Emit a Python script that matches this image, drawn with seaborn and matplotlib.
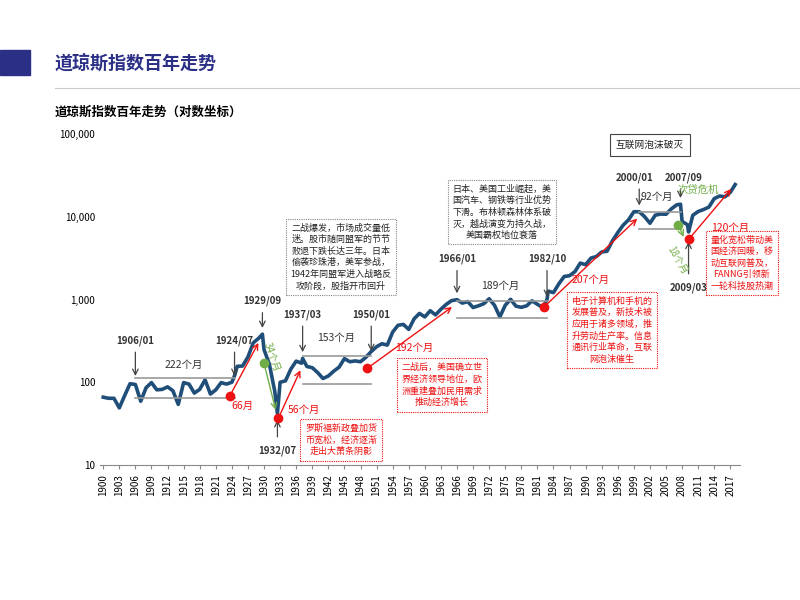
import matplotlib
matplotlib.use("Agg")
import matplotlib.pyplot as plt
import matplotlib.patches as mpatches
import matplotlib.ticker as mticker
import seaborn as sns
import pandas as pd

plt.rcParams["font.family"] = ["Noto Sans CJK SC", "DejaVu Sans"]

# Dow Jones index, approximate readings (year, level)
years = [1900, 1901, 1902, 1903, 1904, 1905, 1906, 1907, 1908, 1909, 1910, 1911, 1912,
         1913, 1914, 1915, 1916, 1917, 1918, 1919, 1920, 1921, 1922, 1923, 1924, 1924.5,
         1925, 1926, 1927, 1928, 1929, 1929.7, 1930, 1931, 1932, 1932.5, 1933, 1934, 1935,
         1936, 1937, 1937.2, 1938, 1939, 1940, 1941, 1942, 1943, 1944, 1945, 1946, 1947,
         1948, 1949, 1950, 1951, 1952, 1953, 1954, 1955, 1956, 1957, 1958, 1959, 1960,
         1961, 1962, 1963, 1964, 1965, 1966, 1967, 1968, 1969, 1970, 1971, 1972, 1973,
         1974, 1975, 1976, 1977, 1978, 1979, 1980, 1981, 1982, 1982.8, 1983, 1984, 1985,
         1986, 1987, 1988, 1989, 1990, 1991, 1992, 1993, 1994, 1995, 1996, 1997, 1998,
         1999, 2000, 2001, 2002, 2003, 2004, 2005, 2006, 2007, 2007.7, 2008, 2009,
         2009.2, 2010, 2011, 2012, 2013, 2014, 2015, 2016, 2017, 2017.9]
dow = [66, 64, 64, 49, 69, 96, 94, 59, 86, 99, 81, 82, 88,
       79, 54, 99, 95, 74, 82, 107, 72, 81, 99, 95, 100, 120,
       156, 157, 202, 300, 340, 381, 248, 165, 78, 42, 100, 104, 144,
       180, 170, 194, 155, 150, 131, 111, 119, 136, 152, 193, 177, 181,
       177, 200, 235, 269, 292, 281, 404, 488, 500, 435, 584, 679, 616,
       731, 652, 763, 874, 969, 995, 905, 944, 800, 839, 890, 1020, 851,
       616, 852, 1005, 831, 805, 839, 964, 875, 800, 1000, 1259, 1212, 1547,
       1896, 1939, 2169, 2753, 2634, 3169, 3301, 3754, 3834, 5117, 6448, 7908, 9181,
       11497, 11500, 10021, 8342, 10454, 10783, 10718, 12463, 13930, 14165, 8776, 8000,
       6547, 10428, 11578, 12218, 13104, 16577, 17823, 17425, 19763, 24500]
tick_years = list(range(1900, 2018, 3))
ytick_vals = [10, 100, 1000, 10000, 100000]

df = pd.DataFrame({"year": years, "dow": dow})

fig = plt.figure(figsize=(8, 6), dpi=100)
W, H = 800, 600
def fp(x, y):
    return x / W, 1 - y / H

# header
fig.patches.append(mpatches.Rectangle(fp(0, 75), 30 / W, 25 / H, color="#2b2f86", transform=fig.transFigure))
fig.text(*fp(55, 63), "道琼斯指数百年走势", fontsize=13, fontweight="bold", color="#2b2f86", va="center")
fig.add_artist(plt.Line2D([55 / W, 1], [1 - 88 / H] * 2, color="#cccccc", lw=0.8))
fig.text(*fp(55, 112), "道琼斯指数百年走势（对数坐标）", fontsize=9, fontweight="bold", va="center")

ax = fig.add_axes([100 / W, 1 - 465 / H, 640 / W, 331 / H])
sns.lineplot(data=df, x="year", y="dow", ax=ax, color="#1f4e79", lw=2.6)
ax.set_yscale("log")
ax.set_ylim(10, 100000)
ax.set_xlim(1899.4, 2018.8)
ax.set_yticks(ytick_vals)
ax.yaxis.set_major_formatter(mticker.FuncFormatter(lambda v, p: f"{int(v):,}"))
ax.yaxis.set_minor_locator(mticker.NullLocator())
ax.set_xticks(tick_years)
ax.set_xticklabels([str(t) for t in tick_years], rotation=90, fontsize=7)
ax.tick_params(axis="y", labelsize=7, length=0)
ax.tick_params(axis="x", length=3, color="#888888")
ax.set_xlabel("")
ax.set_ylabel("")
for s in ["left", "top", "right"]:
    ax.spines[s].set_visible(False)
ax.spines["bottom"].set_color("#888888")

# date markers: label, x, y, label x, label y
marks = [("1906/01", 1906, 100, 1906, 320), ("1924/07", 1924.5, 100, 1924.5, 320),
         ("1929/09", 1929.7, 381, 1929.7, 960), ("1937/03", 1937.2, 194, 1937.2, 660),
         ("1950/01", 1950, 200, 1950, 660), ("1966/01", 1966, 1000, 1966, 3100),
         ("1982/10", 1982.8, 900, 1982.8, 3100), ("2000/01", 2000, 11500, 1999.2, 30000),
         ("2007/09", 2007.7, 14165, 2008.3, 30000)]
for lab, x, y, tx, ty in marks:
    ax.annotate("", xy=(x, y * 1.1), xytext=(x, ty * 0.78),
                arrowprops=dict(arrowstyle="->", color="#444444", lw=0.9))
    ax.text(tx, ty, lab, ha="center", va="center", fontsize=7, fontweight="bold", color="#333333")
for lab, x, y, ty in [("1932/07", 1932.5, 42, 15), ("2009/03", 2009.2, 6000, 1400)]:
    ax.annotate("", xy=(x, y * 0.9), xytext=(x, ty * 1.35),
                arrowprops=dict(arrowstyle="->", color="#444444", lw=0.9))
    ax.text(x, ty, lab, ha="center", va="center", fontsize=7, fontweight="bold", color="#333333")

# grey ranges
ranges = [(1906, 1924.5, 112, 64, "222个月", 1915, 160), (1937.2, 1950, 205, 95, "153个月", 1943.5, 340),
          (1966, 1982.8, 970, 590, "189个月", 1974, 1450), (2000, 2007.7, 11500, 7200, "92个月", 2003.3, 17500)]
for x0, x1, hi, lo, lab, tx, ty in ranges:
    ax.plot([x0, x1], [hi, hi], color="#999999", lw=1.2)
    ax.plot([x0, x1], [lo, lo], color="#999999", lw=1.2)
    ax.text(tx, ty, lab, ha="center", va="center", fontsize=7.5, color="#333333")

# red rallies
rallies = [(1923.6, 68, 1929.2, 320, "66月", 1926, 52), (1932.7, 37, 1937, 150, "56个月", 1937.5, 46),
           (1949.3, 148, 1965.5, 850, "192个月", 1958, 260), (1982.3, 820, 2000, 10000, "207个月", 1991, 1730),
           (2009.3, 5400, 2017.5, 23000, "120个月", 2017, 7400)]
for x0, y0, x1, y1, lab, tx, ty in rallies:
    ax.plot(x0, y0, "o", color="#ee1111", ms=6, zorder=5)
    ax.annotate("", xy=(x1, y1), xytext=(x0, y0),
                arrowprops=dict(arrowstyle="->", color="#ee1111", lw=1))
    ax.text(tx, ty, lab, ha="center", va="center", fontsize=7.5, color="#ee1111")

# green crashes
for x0, y0, x1, y1, lab, tx, ty, rot in [(1930, 170, 1932.3, 43, "34个月", 1931.5, 200, -70),
                                         (2007.3, 8000, 2008.5, 5300, "18个月", 2007, 3000, -60)]:
    ax.plot(x0, y0, "o", color="#70ad47", ms=6, zorder=5)
    ax.annotate("", xy=(x1, y1), xytext=(x0, y0),
                arrowprops=dict(arrowstyle="->", color="#70ad47", lw=1))
    ax.text(tx, ty, lab, ha="center", va="center", fontsize=7, color="#70ad47", rotation=rot)
ax.text(2011, 21000, "次贷危机", ha="center", va="center", fontsize=7.5, color="#70ad47")

# text boxes
grey_box = dict(boxstyle="square,pad=0.5", fc="white", ec="#888888", ls=(0, (1, 1)), lw=0.8)
red_box = dict(boxstyle="square,pad=0.5", fc="white", ec="#ee1111", ls=(0, (1, 1)), lw=0.8)
boxes = [
    (341, 257, "二战爆发，市场成交量低\n迷。股市随同盟军的节节\n败退下跌长达三年。日本\n偷袭珍珠港，美军参战，\n1942年同盟军进入战略反\n攻阶段，股指开市回升", grey_box, "#222222"),
    (341, 440, "罗斯福新政叠加货\n币宽松，经济逐渐\n走出大萧条阴影", red_box, "#ee1111"),
    (442, 385, "二战后，美国确立世\n界经济领导地位，欧\n洲重建叠加民用需求\n推动经济增长", red_box, "#ee1111"),
    (502, 212, "日本、美国工业崛起，美\n国汽车、钢铁等行业优势\n下滑。布林顿森林体系破\n灭，越战演变为持久战，\n美国霸权地位衰落", grey_box, "#222222"),
    (612, 330, "电子计算机和手机的\n发展普及，新技术被\n应用于诸多领域，推\n升劳动生产率。信息\n通讯行业革命，互联\n网泡沫催生", red_box, "#ee1111"),
    (742, 263, "量化宽松带动美\n国经济回暖，移\n动互联网普及，\nFANNG引领新\n一轮科技股热潮", red_box, "#ee1111"),
]
for x, y, txt, bb, c in boxes:
    fig.text(*fp(x, y), txt, ha="center", va="center", fontsize=6.5, color=c, bbox=bb, linespacing=1.35)
fig.text(*fp(650, 145), "互联网泡沫破灭", ha="center", va="center", fontsize=7, color="#222222",
         bbox=dict(boxstyle="square,pad=0.6", fc="white", ec="#444444", lw=0.8))

fig.savefig("out.png", dpi=100)
